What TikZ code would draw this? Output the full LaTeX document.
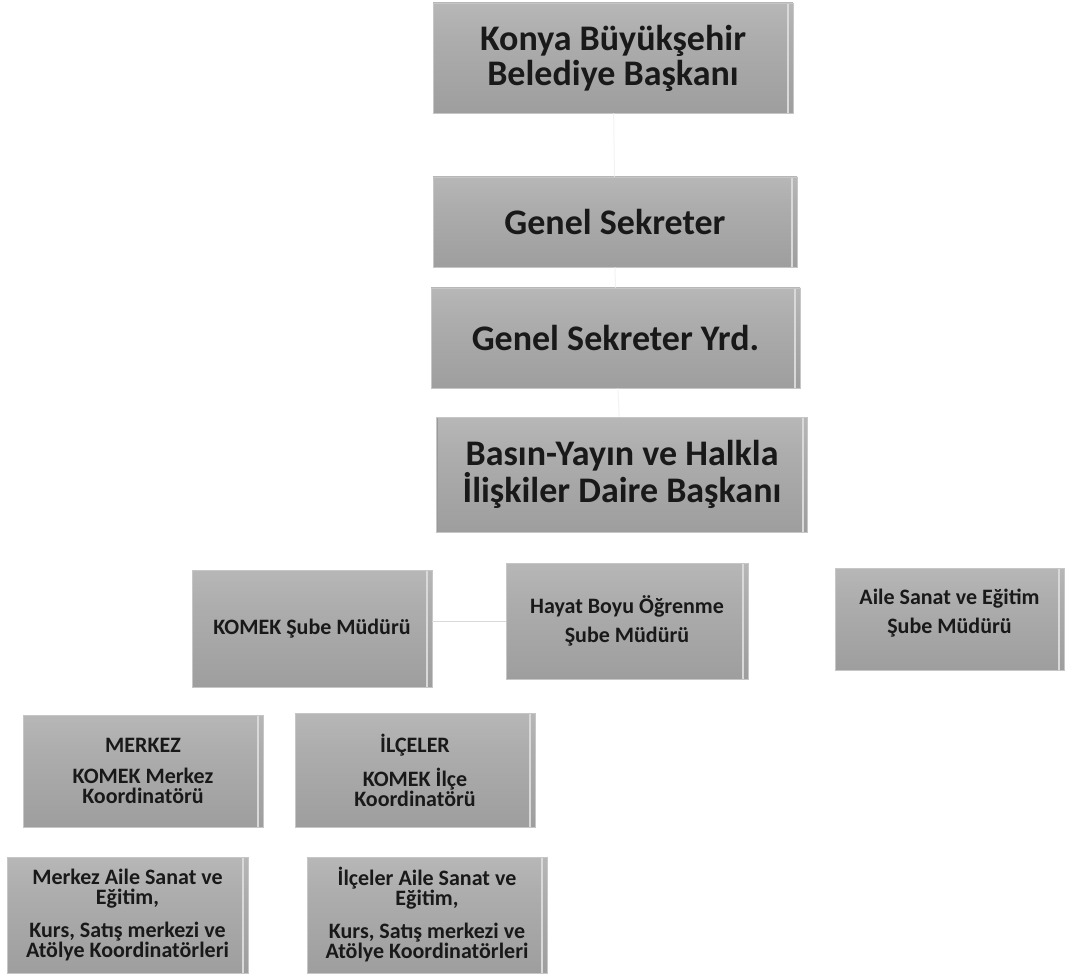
\documentclass[tikz,border=0pt]{standalone}
\usepackage{fontspec}
\setmainfont{Carlito}
\pgfdeclareverticalshading{orgshade}{100bp}{color(0bp)=(black!40); color(25bp)=(black!38); color(60bp)=(black!32); color(80bp)=(black!27); color(86bp)=(black!14); color(92bp)=(black!7); color(100bp)=(black!5)}
\begin{document}
\begin{tikzpicture}[x=1pt,y=-1pt,
  orgbox/.style={rectangle, inner sep=0pt, align=center, text=black!90,
    shading=orgshade, draw=gray!45, line width=0.6pt,
    path picture={\draw[gray!80, line width=2.2pt]
      (path picture bounding box.north west) -- (path picture bounding box.south west);
      \draw[white!70!gray, line width=2pt]
      ([xshift=-5pt]path picture bounding box.north east) -- ([xshift=-5pt]path picture bounding box.south east);}},
  topbox/.style={orgbox, font=\bfseries\fontsize{36}{35}\selectfont},
  lowbox/.style={orgbox, font=\bfseries\fontsize{22}{29}\selectfont},
  botbox/.style={orgbox, font=\bfseries\fontsize{22}{20}\selectfont},
  conn/.style={draw=gray!10, line width=1pt},
  connvis/.style={draw=gray!30, line width=1pt}]
\useasboundingbox (0,0) rectangle (1066,976);

\node[topbox, minimum width=360pt, minimum height=110pt] (konya) at (613,58)
  {Konya Büyükşehir\\Belediye Başkanı};
\node[topbox, minimum width=364pt, minimum height=90pt] (genel) at (615,222)
  {Genel Sekreter};
\node[topbox, minimum width=369pt, minimum height=100pt] (yrd) at (615.5,338)
  {Genel Sekreter Yrd.};
\node[topbox, minimum width=371pt, minimum height=115pt] (basin) at (622,474.5)
  {Basın-Yayın ve Halkla\\İlişkiler Daire Başkanı};

\node[lowbox, minimum width=240pt, minimum height=117pt] (komek) at (312,628.5)
  {KOMEK Şube Müdürü};
\node[lowbox, minimum width=242pt, minimum height=116pt] (hayat) at (627,621)
  {Hayat Boyu Öğrenme\\Şube Müdürü};
\node[lowbox, minimum width=229pt, minimum height=102pt] (aile) at (949.5,619)
  {Aile Sanat ve Eğitim\\Şube Müdürü\rule[-16pt]{0pt}{0pt}};

\node[botbox, minimum width=240pt, minimum height=112pt] (merkez) at (143,771)
  {MERKEZ\\[11pt]KOMEK Merkez\\Koordinatörü};
\node[botbox, minimum width=240pt, minimum height=114pt] (ilceler) at (415,770)
  {İLÇELER\\[11pt]KOMEK İlçe\\Koordinatörü};

\node[botbox, minimum width=241pt, minimum height=116pt] (merkezaile) at (127.5,915)
  {Merkez Aile Sanat ve\\Eğitim,\\[13pt]Kurs, Satış merkezi ve\\Atölye Koordinatörleri};
\node[botbox, minimum width=240pt, minimum height=116pt] (ilceleraile) at (427,915)
  {İlçeler Aile Sanat ve\\Eğitim,\\[13pt]Kurs, Satış merkezi ve\\Atölye Koordinatörleri};

\draw[conn] (konya) -- (genel);
\draw[conn] (genel) -- (yrd);
\draw[conn] (yrd) -- (basin);
\draw[connvis] (hayat.west) -- (hayat.west -| komek.east);
\end{tikzpicture}
\end{document}
